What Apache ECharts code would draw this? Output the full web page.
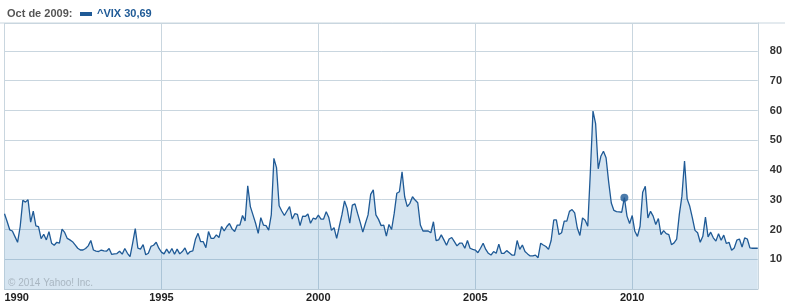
<!DOCTYPE html>
<html>
<head>
<meta charset="utf-8">
<script src="https://cdn.jsdelivr.net/npm/echarts@6/dist/echarts.min.js"></script>
<style>html,body{margin:0;padding:0;background:#fff}#c{width:785px;height:305px}</style>
</head>
<body>
<div id="c"></div>
<script>
// Monthly ^VIX values, Jan 1990 .. Jan 2014
const startYear = 1990;
const v1990 = [25.3, 22.7, 19.9, 19.5, 17.6, 15.7, 21.0, 29.8, 29.2, 30.0, 22.5, 26.2];
const v1991 = [21.2, 21.0, 16.9, 18.4, 16.5, 19.3, 15.4, 14.7, 15.7, 15.4, 20.1, 19.0];
const v1992 = [17.0, 16.5, 15.9, 14.8, 13.7, 13.1, 13.1, 13.6, 14.5, 16.3, 13.1, 12.7];
const v1993 = [12.6, 13.1, 12.8, 12.7, 13.6, 11.6, 11.8, 11.9, 12.7, 11.7, 13.6, 12.0];
const v1994 = [10.9, 15.4, 20.3, 13.7, 13.4, 14.9, 11.5, 12.0, 14.3, 14.7, 15.7, 13.7];
const v1995 = [12.4, 11.8, 13.4, 12.0, 13.6, 11.7, 13.4, 11.8, 12.6, 13.8, 11.7, 12.6];
const v1996 = [12.8, 16.7, 18.7, 15.9, 15.9, 13.9, 19.3, 17.0, 17.0, 18.2, 17.3, 21.0];
const v1997 = [19.5, 21.0, 22.0, 20.2, 19.3, 21.5, 21.5, 24.7, 22.9, 34.7, 27.7, 24.9];
const v1998 = [22.1, 18.7, 24.0, 21.5, 21.3, 19.8, 24.9, 43.9, 40.8, 28.0, 26.2, 24.7];
const v1999 = [26.2, 27.7, 23.5, 25.3, 25.1, 21.3, 24.5, 24.4, 25.2, 22.1, 23.8, 23.5];
const v2000 = [24.8, 23.5, 23.5, 26.0, 24.0, 19.7, 20.6, 17.0, 21.0, 24.9, 29.6, 27.1];
const v2001 = [22.1, 28.2, 28.6, 25.4, 22.4, 19.1, 22.1, 24.9, 31.8, 33.3, 24.9, 23.4];
const v2002 = [21.3, 21.5, 17.8, 21.7, 20.0, 25.4, 32.2, 32.7, 39.4, 31.0, 27.7, 28.8];
const v2003 = [31.0, 29.9, 29.0, 21.5, 19.5, 19.5, 19.5, 18.9, 22.6, 16.3, 16.5, 18.2];
const v2004 = [16.5, 14.7, 16.8, 17.3, 15.9, 14.5, 15.4, 15.4, 13.7, 16.3, 13.7, 13.3];
const v2005 = [13.1, 12.2, 13.7, 15.4, 13.3, 12.0, 11.4, 12.6, 12.0, 15.1, 12.0, 12.0];
const v2006 = [12.9, 12.2, 11.4, 11.4, 16.3, 13.3, 14.8, 12.6, 11.8, 11.1, 11.1, 11.4];
const v2007 = [10.5, 15.4, 14.8, 14.3, 13.3, 16.3, 23.2, 23.2, 18.3, 18.9, 22.8, 22.8];
const v2008 = [26.1, 26.7, 25.6, 20.5, 18.0, 23.9, 23.1, 21.1, 39.4, 59.8, 55.6, 40.4];
const v2009 = [44.6, 46.3, 44.1, 35.9, 28.9, 26.4, 26.0, 25.9, 25.8, 30.69, 24.5, 22.0];
const v2010 = [24.7, 19.4, 17.7, 21.1, 32.5, 34.5, 23.9, 26.1, 24.5, 21.7, 23.7, 18.3];
const v2011 = [19.6, 18.6, 18.3, 14.9, 15.5, 16.8, 25.0, 31.2, 43.0, 30.3, 27.8, 23.9];
const v2012 = [19.7, 18.9, 15.7, 17.7, 24.2, 17.5, 19.1, 17.2, 16.1, 18.6, 16.4, 18.1];
const v2013 = [15.3, 15.7, 13.0, 13.8, 16.4, 16.8, 14.1, 17.2, 16.8, 13.8, 13.7, 13.7];
const v2014 = [13.7];

const yTicks = [10, 20, 30, 40, 50, 60, 70, 80];
const xTicks = [1990, 1995, 2000, 2005, 2010];
const markerLabel = "Oct de 2009:";
const seriesName = "^VIX";
const markerValue = 30.69;
const markerDate = 2009 + 9 / 12;

const values = [].concat(v1990, v1991, v1992, v1993, v1994, v1995, v1996, v1997, v1998, v1999,
  v2000, v2001, v2002, v2003, v2004, v2005, v2006, v2007, v2008, v2009, v2010, v2011, v2012, v2013, v2014);
const data = values.map((v, i) => [startYear + i / 12, v]);

const gridColor = '#c9d6df';
const lineColor = '#1f5a96';
const font = 'Liberation Sans, Arial, sans-serif';

const chart = echarts.init(document.getElementById('c'), null, {renderer: 'canvas'});
chart.setOption({
  animation: false,
  backgroundColor: '#ffffff',
  grid: {left: 4.5, right: 25.7, top: 23, bottom: 16},
  xAxis: {
    type: 'value', min: 1990, max: 2014, interval: 5,
    axisLine: {show: true, lineStyle: {color: '#b7c9d6', width: 1}},
    axisTick: {show: false},
    splitLine: {show: true, lineStyle: {color: gridColor, width: 1}},
    axisLabel: {
      margin: 3, color: '#222', fontSize: 11, fontWeight: 'bold', fontFamily: font,
      alignMinLabel: 'left',
      formatter: v => xTicks.includes(Math.round(v)) && Math.abs(v - Math.round(v)) < 1e-6 ? String(Math.round(v)) : ''
    }
  },
  yAxis: {
    type: 'value', position: 'right', min: 0, max: 89.4, interval: 10,
    axisLine: {show: true, lineStyle: {color: gridColor, width: 1}},
    axisTick: {show: false},
    splitLine: {show: true, lineStyle: {color: gridColor, width: 1}},
    axisLabel: {
      margin: 12, color: '#333', fontSize: 11, fontWeight: 'bold', fontFamily: font,
      formatter: v => yTicks.includes(Math.round(v)) && Math.abs(v - Math.round(v)) < 1e-6 ? String(Math.round(v)) : ''
    }
  },
  series: [
    {
      type: 'line', name: seriesName, data: data, symbol: 'none', smooth: false,
      lineStyle: {color: lineColor, width: 1.3},
      areaStyle: {color: 'rgba(60,130,190,0.21)', opacity: 1, origin: 'start'},
      z: 2
    },
    {
      type: 'scatter', data: [[markerDate, markerValue]], symbol: 'circle', symbolSize: 8,
      itemStyle: {color: lineColor}, z: 5
    }
  ],
  graphic: [
    {type: 'line', shape: {x1: 0, y1: 23, x2: 785, y2: 23}, style: {stroke: gridColor, lineWidth: 1}, z: 10},
    {type: 'text', x: 7, y: 14, style: {text: markerLabel, fill: '#555', font: 'bold 11px ' + font, textVerticalAlign: 'middle'}, z: 10},
    {type: 'rect', shape: {x: 80, y: 12, width: 12, height: 4}, style: {fill: lineColor}, z: 10},
    {type: 'text', x: 97, y: 14, style: {text: seriesName + ' ' + String(markerValue).replace('.', ','), fill: lineColor, font: 'bold 11px ' + font, textVerticalAlign: 'middle'}, z: 10},
    {type: 'text', x: 8, y: 283.5, style: {text: '\u00a9 2014 Yahoo! Inc.', fill: '#a9b6c1', font: '10px ' + font, textVerticalAlign: 'middle'}, z: 10}
  ]
});
</script>
</body>
</html>
